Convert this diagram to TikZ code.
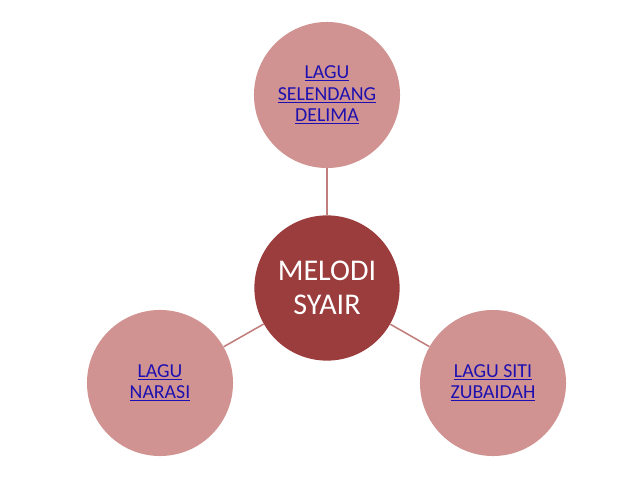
\documentclass[tikz,border=0pt]{standalone}
\usepackage{fontspec}
\setmainfont{Carlito}
\definecolor{petal}{HTML}{D19391}
\definecolor{hub}{HTML}{9B3D3C}
\definecolor{spoke}{HTML}{C07F7D}
\definecolor{linkblue}{HTML}{1E10B0}
\tikzset{
  petalnode/.style={circle, fill=petal, minimum size=3.65cm, inner sep=0pt,
    align=center, text=linkblue, font=\fontsize{14.1}{15.2}\selectfont},
  hubnode/.style={circle, fill=hub, minimum size=3.63cm, inner sep=0pt,
    align=center, text=white, font=\fontsize{21.4}{24.5}\selectfont},
  spokeline/.style={draw=spoke, line width=1.1pt}
}
\begin{document}
\begin{tikzpicture}[x=0.025cm, y=-0.025cm]
  \useasboundingbox (0,0) rectangle (638,479);

  % Centre
  \node[hubnode] (melodi) at (327,288) {MELODI\\SYAIR};

  % Outer circles
  \node[petalnode] (selendang) at (327,95)
    {\underline{LAGU}\\\underline{SELENDANG}\\\underline{DELIMA}};
  \node[petalnode] (narasi) at (160,383)
    {\underline{LAGU}\\\underline{NARASI}};
  \node[petalnode] (zubaidah) at (493,383)
    {\underline{LAGU SITI}\\\underline{ZUBAIDAH}};

  % Connectors
  \draw[spokeline] (melodi) -- (selendang);
  \draw[spokeline] (melodi) -- (narasi);
  \draw[spokeline] (melodi) -- (zubaidah);
\end{tikzpicture}
\end{document}
